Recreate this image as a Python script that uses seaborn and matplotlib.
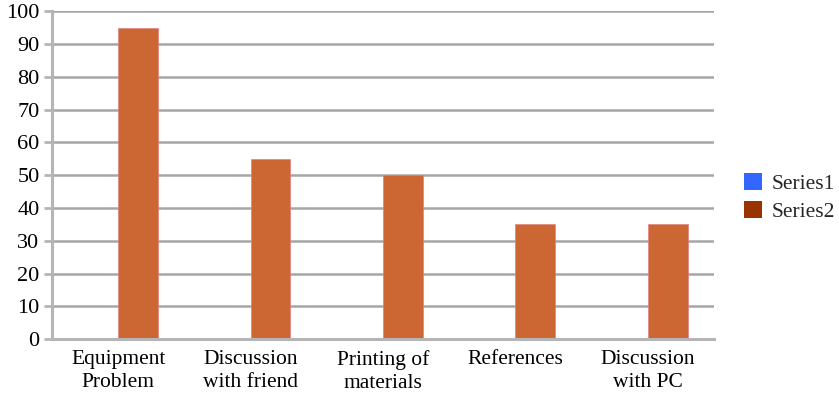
import matplotlib
matplotlib.use("Agg")
import matplotlib.pyplot as plt
import seaborn as sns
import pandas as pd
import numpy as np
from matplotlib.patches import Patch

categories = ["Equipment\nProblem", "Discussion\nwith friend", "Printing of\nmaterials",
              "References", "Discussion\nwith PC"]
series1 = [0, 0, 0, 0, 0]
series2 = [95, 55, 50, 35, 35]
series_names = ["Series1", "Series2"]
bar_colors = ["#3366FF", "#CC6633"]
legend_colors = ["#3366FF", "#993300"]

df = pd.DataFrame({
    "category": categories * 2,
    "value": series1 + series2,
    "series": [series_names[0]] * len(categories) + [series_names[1]] * len(categories),
})

sns.set_theme(style="white")
plt.rcParams["font.family"] = ["Liberation Serif", "DejaVu Serif"]

fig = plt.figure(figsize=(8.39, 3.99), dpi=100)
ax = fig.add_axes([0.062, 0.150, 0.789, 0.822])

sns.barplot(data=df, x="category", y="value", hue="series", palette=bar_colors,
            width=0.6, ax=ax, legend=False, saturation=1, edgecolor="#E08080", linewidth=0.5)

ax.set_ylim(0, 100)
ax.set_xlim(-0.5, len(categories) - 0.5)
ax.set_yticks(np.arange(0, 101, 10))
ax.yaxis.grid(True, color="#A6A6A6", linewidth=1.8)
ax.set_axisbelow(True)
ax.set_xlabel("")
ax.set_ylabel("")

for side in ["top", "right"]:
    ax.spines[side].set_visible(False)
for side in ["left", "bottom"]:
    ax.spines[side].set_color("#B5B5B5")
    ax.spines[side].set_linewidth(2.2)

ax.tick_params(axis="y", labelsize=16, colors="#B5B5B5", labelcolor="black",
               length=6, width=2, direction="out", pad=3, left=True)
ax.tick_params(axis="x", which="major", labelsize=15.5, labelcolor="black", length=0, pad=8)
ax.set_xticks(np.arange(-0.5, len(categories), 1.0), minor=True)
ax.tick_params(axis="x", which="minor", length=6, width=2, colors="#B5B5B5", direction="out")
for lab in ax.get_xticklabels():
    lab.set_linespacing(1.25)

handles = [Patch(facecolor=c, edgecolor="none", label=n) for c, n in zip(legend_colors, series_names)]
fig.legend(handles=handles, loc="center left", bbox_to_anchor=(0.887, 0.505),
           frameon=False, fontsize=15.5, handlelength=0.85, handleheight=0.85,
           handletextpad=0.42, labelspacing=0.3, borderaxespad=0, borderpad=0)

fig.savefig("out.png", dpi=100, facecolor="white")
